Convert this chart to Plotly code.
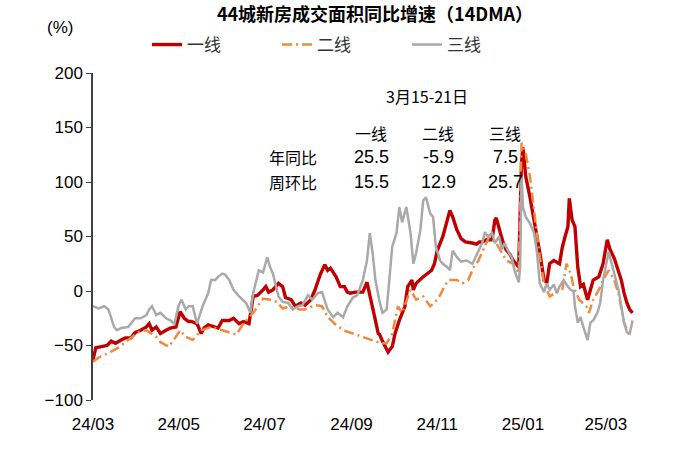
import plotly.graph_objects as go

# ---------------- data ----------------
tier1_dates = ["2024-03-01","2024-03-03","2024-03-07","2024-03-11","2024-03-14","2024-03-17","2024-03-21","2024-03-24","2024-03-28","2024-03-31",
               "2024-04-04","2024-04-08","2024-04-10","2024-04-12","2024-04-15","2024-04-18","2024-04-22","2024-04-25","2024-04-29","2024-05-02",
               "2024-05-05","2024-05-08","2024-05-10","2024-05-14","2024-05-17","2024-05-19","2024-05-22","2024-05-26","2024-05-29","2024-06-01",
               "2024-06-06","2024-06-09","2024-06-13","2024-06-16","2024-06-20","2024-06-23","2024-06-26","2024-06-30","2024-07-02","2024-07-04",
               "2024-07-07","2024-07-11","2024-07-14","2024-07-16","2024-07-20","2024-07-23","2024-07-27","2024-07-30","2024-08-03","2024-08-06",
               "2024-08-10","2024-08-13","2024-08-15","2024-08-17","2024-08-21","2024-08-24","2024-08-27","2024-08-29","2024-08-31","2024-09-04",
               "2024-09-09","2024-09-12","2024-09-14","2024-09-18","2024-09-20","2024-09-21","2024-09-23","2024-09-27","2024-09-30","2024-10-02",
               "2024-10-05","2024-10-09","2024-10-11","2024-10-14","2024-10-15","2024-10-17","2024-10-21","2024-10-24","2024-10-28","2024-10-30",
               "2024-11-01","2024-11-05","2024-11-08","2024-11-10","2024-11-12","2024-11-15","2024-11-18","2024-11-21","2024-11-26","2024-11-29",
               "2024-12-01","2024-12-03","2024-12-06","2024-12-10","2024-12-12","2024-12-13","2024-12-16","2024-12-18","2024-12-20","2024-12-23",
               "2024-12-25","2024-12-28","2024-12-29","2024-12-30","2024-12-31","2025-01-01","2025-01-02","2025-01-03","2025-01-06","2025-01-09",
               "2025-01-11","2025-01-13","2025-01-16","2025-01-18","2025-01-20","2025-01-23","2025-01-27","2025-01-29","2025-01-31","2025-02-02",
               "2025-02-03","2025-02-05","2025-02-07","2025-02-09","2025-02-11","2025-02-13","2025-02-16","2025-02-18","2025-02-20","2025-02-24",
               "2025-02-27","2025-03-02","2025-03-04","2025-03-07","2025-03-10","2025-03-12","2025-03-14","2025-03-16","2025-03-18","2025-03-20"]
tier1_vals = [-63,-52,-51,-50,-46,-48,-45,-43,-43,-38,
              -36,-33,-30,-36,-33,-39,-36,-34,-33,-19,
              -25,-28,-28,-30,-39,-34,-31,-33,-34,-27,
              -27,-25,-30,-28,-30,-5,-4,1,4,-1,
              1,7,4,-6,-8,-14,-11,-13,-8,1,
              16,24,19,21,13,4,4,-1,-2,-1,
              -1,8,-5,-27,-39,-40,-46,-56,-51,-39,
              -27,-14,4,10,1,7,12,15,19,25,
              37,50,65,74,68,56,48,45,44,43,
              45,45,47,47,65,67,53,44,38,33,
              28,24,22,70,118,132,120,105,86,65,
              53,35,10,8,25,28,25,40,50,59,
              85,65,59,22,4,6,-8,1,10,13,
              25,47,38,30,19,10,-2,-11,-17,-20]

tier2_dates = ["2024-03-01","2024-03-05","2024-03-12","2024-03-19","2024-03-26","2024-04-03","2024-04-08","2024-04-15","2024-04-18","2024-04-24",
               "2024-04-29","2024-05-02","2024-05-06","2024-05-11","2024-05-17","2024-05-24","2024-06-01","2024-06-11","2024-06-16","2024-06-23",
               "2024-06-30","2024-07-05","2024-07-10","2024-07-14","2024-07-19","2024-07-26","2024-07-30","2024-08-06","2024-08-11","2024-08-15",
               "2024-08-20","2024-08-26","2024-09-02","2024-09-09","2024-09-17","2024-09-22","2024-09-26","2024-09-30","2024-10-04","2024-10-07",
               "2024-10-13","2024-10-17","2024-10-22","2024-10-27","2024-10-30","2024-11-03","2024-11-06","2024-11-09","2024-11-15","2024-11-19",
               "2024-11-23","2024-11-27","2024-11-30","2024-12-04","2024-12-08","2024-12-13","2024-12-17","2024-12-20","2024-12-25","2024-12-29",
               "2024-12-31","2025-01-03","2025-01-06","2025-01-09","2025-01-11","2025-01-13","2025-01-16","2025-01-20","2025-01-25","2025-01-29",
               "2025-02-01","2025-02-04","2025-02-06","2025-02-10","2025-02-15","2025-02-17","2025-02-20","2025-02-24","2025-02-27","2025-03-03",
               "2025-03-07","2025-03-10","2025-03-14","2025-03-17","2025-03-20"]
tier2_vals = [-65,-61,-57,-52,-45,-37,-36,-42,-47,-51,
              -42,-36,-42,-45,-36,-33,-36,-40,-30,-20,
              -7,-8,-10,-16,-14,-17,-17,-13,-14,-24,
              -30,-36,-39,-42,-46,-48,-48,-39,-14,-20,
              1,-8,-5,-14,-11,-4,4,10,10,7,
              10,22,27,38,50,44,35,28,25,16,
              136,126,105,74,50,31,7,-5,-1,1,
              25,16,4,-8,-14,-20,-8,1,10,19,
              10,-2,-29,-39,-40]

tier3_dates = ["2024-03-01","2024-03-05","2024-03-09","2024-03-12","2024-03-16","2024-03-18","2024-03-21","2024-03-26","2024-03-31","2024-04-04",
               "2024-04-08","2024-04-10","2024-04-12","2024-04-15","2024-04-18","2024-04-22","2024-04-25","2024-04-28","2024-05-01","2024-05-03",
               "2024-05-06","2024-05-08","2024-05-11","2024-05-14","2024-05-18","2024-05-22","2024-05-24","2024-05-27","2024-05-29","2024-06-01",
               "2024-06-03","2024-06-06","2024-06-09","2024-06-13","2024-06-18","2024-06-21","2024-06-23","2024-06-27","2024-06-30","2024-07-03",
               "2024-07-05","2024-07-07","2024-07-11","2024-07-14","2024-07-18","2024-07-21","2024-07-25","2024-07-28","2024-08-01","2024-08-04",
               "2024-08-08","2024-08-11","2024-08-15","2024-08-19","2024-08-22","2024-08-26","2024-08-29","2024-09-02","2024-09-05","2024-09-09",
               "2024-09-12","2024-09-14","2024-09-16","2024-09-18","2024-09-21","2024-09-23","2024-09-26","2024-09-28","2024-09-30","2024-10-03",
               "2024-10-05","2024-10-07","2024-10-10","2024-10-13","2024-10-15","2024-10-17","2024-10-20","2024-10-22","2024-10-24","2024-10-27",
               "2024-10-29","2024-10-31","2024-11-03","2024-11-05","2024-11-08","2024-11-10","2024-11-12","2024-11-15","2024-11-18","2024-11-22",
               "2024-11-26","2024-11-29","2024-12-01","2024-12-03","2024-12-05","2024-12-07","2024-12-10","2024-12-12","2024-12-15","2024-12-17",
               "2024-12-19","2024-12-22","2024-12-24","2024-12-26","2024-12-29","2024-12-30","2024-12-31","2025-01-01","2025-01-03","2025-01-06",
               "2025-01-09","2025-01-11","2025-01-13","2025-01-16","2025-01-18","2025-01-20","2025-01-23","2025-01-25","2025-01-27","2025-01-30",
               "2025-02-01","2025-02-04","2025-02-06","2025-02-07","2025-02-09","2025-02-11","2025-02-13","2025-02-16","2025-02-18","2025-02-20",
               "2025-02-23","2025-02-25","2025-02-27","2025-03-03","2025-03-04","2025-03-07","2025-03-10","2025-03-12","2025-03-14","2025-03-16",
               "2025-03-18","2025-03-20"]
tier3_vals = [-14,-16,-14,-17,-33,-36,-34,-33,-25,-25,
              -22,-17,-14,-22,-20,-25,-27,-30,-13,-8,
              -17,-14,-14,-30,-14,-2,10,10,13,16,
              15,10,1,-5,-11,-20,-2,19,17,31,
              22,16,-5,-10,-11,-17,-14,-13,-4,-8,
              -2,-1,-17,-24,-20,-24,-14,-6,-4,10,
              28,53,35,10,-10,-20,-17,10,41,53,
              77,63,77,53,25,35,56,83,86,71,
              68,41,28,25,22,19,37,31,27,28,
              25,33,38,44,54,50,53,44,50,38,
              44,35,31,19,8,22,106,77,68,62,
              53,35,7,-1,7,1,6,-2,4,10,
              6,1,0,-14,-29,-24,-33,-45,-29,-27,
              -20,-11,10,36,31,16,1,-14,-29,-38,
              -39,-27]

series_names = ["一线", "二线", "三线"]
tick_dates = ["2024-03-01","2024-05-01","2024-07-01","2024-09-01","2024-11-01","2025-01-01","2025-03-01"]
tick_labels = ["24/03","24/05","24/07","24/09","24/11","25/01","25/03"]
y_ticks = [-100, -50, 0, 50, 100, 150, 200]

table_title = "3月15-21日"
table_cols = ["一线", "二线", "三线"]
table_rows = ["年同比", "周环比"]
table_values = [["25.5", "-5.9", "7.5"], ["15.5", "12.9", "25.7"]]

# ---------------- figure ----------------
NUM_FONT = "Liberation Sans, Arial, Noto Sans CJK SC"
CJK_FONT = "Noto Sans CJK SC, Liberation Sans"
AXIS_COLOR = "#404040"

fig = go.Figure()
fig.add_trace(go.Scatter(x=tier1_dates, y=tier1_vals, name=series_names[0], mode="lines",
                         line=dict(color="#C00000", width=3.4)))
fig.add_trace(go.Scatter(x=tier2_dates, y=tier2_vals, name=series_names[1], mode="lines",
                         line=dict(color="#F08A3C", width=2.5, dash="10px,4px,2px,4px")))
fig.add_trace(go.Scatter(x=tier3_dates, y=tier3_vals, name=series_names[2], mode="lines",
                         line=dict(color="#A9A9A9", width=2.5)))

x_range = ["2024-03-01", "2025-03-31"]

fig.update_layout(
    width=683, height=450,
    margin=dict(l=93, r=35, t=73, b=50, autoexpand=False),
    paper_bgcolor="white", plot_bgcolor="white",
    font=dict(family=NUM_FONT, size=17, color="#000000"),
    title=dict(text="<b>44城新房成交面积同比增速（14DMA）</b>",
               font=dict(family=CJK_FONT, size=18, color="#000000"),
               x=375 / 683, xanchor="center", y=1 - 15 / 450, yanchor="middle"),
    showlegend=True,
    legend=dict(orientation="h", x=(342 - 93) / 555, xanchor="center",
                y=(400 - 45) / 327, yanchor="middle",
                font=dict(family=CJK_FONT, size=17, color="#333333"),
                entrywidth=85, entrywidthmode="pixels",
                bgcolor="rgba(0,0,0,0)"),
    xaxis=dict(type="date", range=x_range, tickvals=tick_dates, ticktext=tick_labels,
               showline=False, showgrid=False, zeroline=False, ticks="",
               ticklabelstandoff=12, automargin=False,
               tickfont=dict(family=NUM_FONT, size=17)),
    xaxis2=dict(type="date", range=x_range, overlaying="x", anchor="free", position=1 / 3,
                tickvals=tick_dates, showticklabels=False, showline=True,
                linecolor=AXIS_COLOR, linewidth=1.6, ticks="outside", ticklen=4,
                tickcolor=AXIS_COLOR, tickwidth=1.2, showgrid=False, zeroline=False),
    yaxis=dict(range=[-100, 200], tickvals=y_ticks, showgrid=False, zeroline=False,
               showline=True, linecolor=AXIS_COLOR, linewidth=1.5, automargin=False,
               ticks="outside", ticklen=5, tickcolor=AXIS_COLOR, tickwidth=1.2,
               tickfont=dict(family=NUM_FONT, size=17)),
)

def px_x(px):
    return (px - 93) / 555

def px_y(py):
    return (400 - py) / 327

annotations = [
    dict(text="(%)", x=px_x(60), y=px_y(27), font=dict(family=NUM_FONT, size=17)),
    dict(text=table_title, x=px_x(427), y=px_y(96), font=dict(family=CJK_FONT, size=16)),
]
col_x = [371, 438, 505]
for cx, name in zip(col_x, table_cols):
    annotations.append(dict(text=name, x=px_x(cx), y=px_y(133), font=dict(family=CJK_FONT, size=16)))
row_y = [157, 182]
for ry, rname, vals in zip(row_y, table_rows, table_values):
    annotations.append(dict(text=rname, x=px_x(293), y=px_y(ry), font=dict(family=CJK_FONT, size=16)))
    for cx, v in zip(col_x, vals):
        annotations.append(dict(text=v, x=px_x(cx), y=px_y(ry), font=dict(family=NUM_FONT, size=18)))

for a in annotations:
    a.update(xref="paper", yref="paper", showarrow=False, xanchor="center", yanchor="middle")
fig.update_layout(annotations=annotations)

fig.write_html("out.html", config={"displayModeBar": False},
               post_script="document.body.style.margin='0';document.body.style.padding='0';")
